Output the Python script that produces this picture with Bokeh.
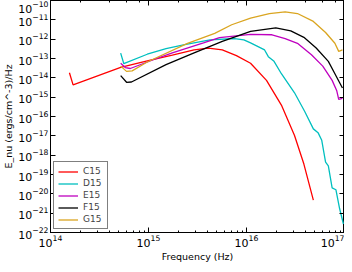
from bokeh.plotting import figure
from bokeh.models import Range1d, LogAxis, LogTicker, FixedTicker, Legend, LegendItem, CustomJSTickFormatter
from bokeh.embed import file_html
from bokeh.resources import INLINE

# ---- data ----
c15_freq = [1.56e14, 1.70e14, 2.88e14, 5.20e14, 9.71e14, 1.75e15, 2.92e15, 4.07e15,
            5.66e15, 7.89e15, 1.10e16, 1.60e16, 2.27e16, 3.09e16, 3.85e16, 4.81e16]
c15_e = [1.83e-14, 4.34e-15, 1.16e-14, 3.48e-14, 7.53e-14, 1.49e-13, 2.77e-13, 3.47e-13,
         2.77e-13, 1.40e-13, 5.67e-14, 7.38e-15, 3.88e-16, 1.04e-17, 3.47e-19, 4.68e-21]

d15_freq = [5.20e14, 5.59e14, 9.71e14, 1.51e15, 2.34e15, 4.25e15, 7.54e15, 9.40e15,
            1.10e16, 1.53e16, 1.67e16, 1.91e16, 2.27e16, 3.09e16, 3.94e16, 4.81e16,
            5.37e16, 5.86e16, 6.41e16, 6.84e16, 7.48e16, 8.17e16, 8.92e16, 9.75e16]
d15_e = [1.91e-13, 5.48e-14, 1.66e-13, 3.28e-13, 5.16e-13, 9.10e-13, 1.08e-12, 9.10e-13,
         6.48e-13, 2.77e-13, 1.25e-13, 7.11e-14, 1.63e-14, 1.69e-15, 1.76e-16, 2.29e-17,
         1.46e-17, 5.89e-18, 4.35e-19, 2.76e-19, 2.04e-20, 1.63e-20, 1.69e-21, 2.76e-22]

e15_freq = [5.20e14, 5.80e14, 6.52e14, 1.21e15, 1.75e15, 3.64e15, 5.30e15, 1.10e16,
            1.82e16, 2.48e16, 3.31e16, 4.60e16, 6.00e16, 7.48e16, 8.34e16, 8.73e16, 9.53e16]
e15_e = [5.67e-14, 3.40e-14, 3.04e-14, 1.00e-13, 1.97e-13, 6.48e-13, 1.21e-12, 1.79e-12,
         1.69e-12, 1.08e-12, 6.12e-13, 1.57e-13, 4.04e-14, 7.38e-15, 2.12e-15, 7.66e-16, 8.59e-16]

f15_freq = [5.20e14, 5.97e14, 6.70e14, 1.51e15, 2.92e15, 5.66e15, 1.10e16, 1.99e16,
            2.83e16, 3.85e16, 5.14e16, 6.84e16, 7.98e16, 9.53e16]
f15_e = [1.30e-14, 5.89e-15, 6.10e-15, 4.79e-14, 1.97e-13, 7.67e-13, 2.52e-12, 3.87e-12,
         2.67e-12, 1.25e-12, 3.47e-13, 7.11e-14, 1.63e-14, 2.99e-15]

g15_freq = [5.20e14, 5.97e14, 6.81e14, 9.71e14, 2.50e15, 4.74e15, 7.06e15, 1.10e16,
            1.71e16, 2.48e16, 3.31e16, 4.81e16, 6.41e16, 7.98e16, 8.73e16, 9.53e16]
g15_e = [4.04e-14, 2.16e-14, 2.29e-14, 6.58e-14, 6.12e-13, 2.01e-12, 5.57e-12, 1.23e-11,
         2.10e-11, 2.57e-11, 2.12e-11, 8.28e-12, 2.20e-12, 6.12e-13, 2.33e-13, 2.77e-13]

series = [("C15", c15_freq, c15_e, "#ff0000"),
          ("D15", d15_freq, d15_e, "#00bfbf"),
          ("E15", e15_freq, e15_e, "#bf00bf"),
          ("F15", f15_freq, f15_e, "#000000"),
          ("G15", g15_freq, g15_e, "#daa520")]

y_decades = [10.0 ** k for k in range(-22, -9)]

FONT = "DejaVu Sans"

p = figure(width=344, height=264, x_axis_type="log", y_axis_type="log",
           x_range=Range1d(1e14, 1e17), y_range=Range1d(1e-22, 1e-10),
           output_backend="svg", toolbar_location=None,
           min_border_left=0, min_border_right=0, min_border_top=0, min_border_bottom=0)

p.xgrid.visible = False
p.ygrid.visible = False
p.outline_line_color = "#000000"
p.outline_line_width = 1
p.background_fill_color = "white"
p.border_fill_color = "white"

items = []
for name, fx, fy, col in series:
    r = p.line(fx, fy, line_color=col, line_width=1.3)
    items.append(LegendItem(label=name, renderers=[r]))

p.yaxis.ticker = FixedTicker(ticks=y_decades)

for ax in p.xaxis + p.yaxis:
    ax.major_tick_in = 5
    ax.major_tick_out = 0
    ax.minor_tick_in = 2
    ax.minor_tick_out = 0
    ax.axis_line_color = "#000000"
    ax.major_label_text_font = FONT
    ax.major_label_text_font_size = "11px"
    ax.major_label_text_color = "#000000"
    ax.axis_label_text_font = FONT
    ax.axis_label_text_font_size = "9.5px"
    ax.axis_label_text_font_style = "normal"
    ax.axis_label_text_color = "#000000"
    ax.major_label_standoff = 2
    ax.axis_label_standoff = 1

p.yaxis.minor_tick_line_color = None
p.xaxis.axis_label = "Frequency (Hz)"
p.yaxis.axis_label = "E_nu (ergs/cm^-3)/Hz"

top = LogAxis(ticker=LogTicker(), formatter=CustomJSTickFormatter(code="return '';"),
              major_tick_in=5, major_tick_out=0, minor_tick_in=2, minor_tick_out=0,
              major_label_standoff=0, major_label_text_font_size="1px")
right = LogAxis(ticker=FixedTicker(ticks=y_decades),
                formatter=CustomJSTickFormatter(code="return '';"),
                major_tick_in=5, major_tick_out=0, minor_tick_in=0, minor_tick_out=0,
                minor_tick_line_color=None, major_label_standoff=0,
                major_label_text_font_size="1px")
p.add_layout(top, "above")
p.add_layout(right, "right")

legend = Legend(items=items, location="bottom_left")
legend.label_text_font = FONT
legend.label_text_font_size = "9px"
legend.glyph_width = 20
legend.glyph_height = 9
legend.label_height = 9
legend.spacing = 2
legend.padding = 4
legend.margin = 3
legend.border_line_color = "#000000"
legend.border_line_width = 1
legend.background_fill_alpha = 1
p.add_layout(legend)

open("out.html", "w").write(file_html(p, INLINE))
